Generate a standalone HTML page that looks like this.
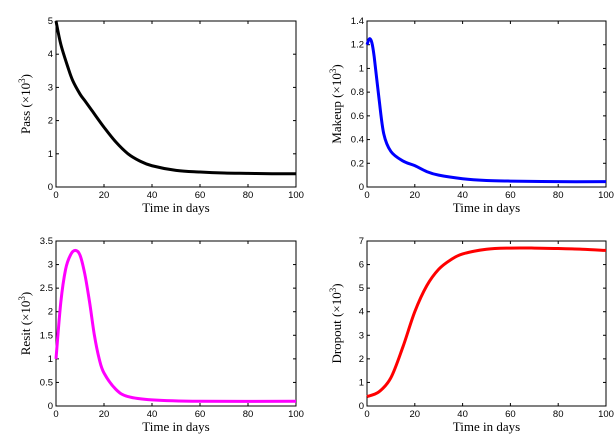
<!DOCTYPE html>
<html><head><meta charset="utf-8"><style>
body{margin:0;background:#fff}
svg{display:block}
.tk{font:9.5px "Liberation Sans",sans-serif;fill:#000}
.lb{font:13px "Liberation Serif",serif;fill:#000}
</style></head><body>
<svg id="s" width="615" height="440"></svg>
<script>
const xs=[0,2,5,7,10,12,15,20,25,30,35,40,50,60,70,80,90,100];
const passVals=[5,4.3,3.6,3.2,2.8,2.6,2.3,1.8,1.35,1.0,0.78,0.64,0.5,0.45,0.42,0.41,0.4,0.4];
const makeupX=[0,1,2,3,5,7,10,15,20,25,30,40,50,60,80,100];
const makeupVals=[1.2,1.25,1.22,1.1,0.75,0.45,0.3,0.22,0.18,0.13,0.1,0.07,0.055,0.05,0.045,0.045];
const resitX=[0,2,4,6,8,10,12,14,16,18,20,25,30,40,60,100];
const resitVals=[1.0,2.2,2.9,3.2,3.3,3.2,2.8,2.2,1.5,1.0,0.7,0.35,0.2,0.13,0.1,0.1];
const dropX=[0,5,10,15,20,25,30,35,40,50,60,70,80,90,100];
const dropVals=[0.4,0.6,1.2,2.5,4.0,5.1,5.8,6.2,6.45,6.65,6.7,6.7,6.68,6.65,6.6];
const xTicks=[0,20,40,60,80,100];
const panels=[
 {n:'pass',x0:56,x1:296,y0:187,y1:21,ymax:5,yt:[0,1,2,3,4,5],xd:xs,yd:passVals,c:'#000',lab:'Pass'},
 {n:'makeup',x0:367,x1:606,y0:187,y1:21,ymax:1.4,yt:[0,0.2,0.4,0.6,0.8,1,1.2,1.4],xd:makeupX,yd:makeupVals,c:'#0000ff',lab:'Makeup'},
 {n:'resit',x0:56,x1:296,y0:406,y1:241,ymax:3.5,yt:[0,0.5,1,1.5,2,2.5,3,3.5],xd:resitX,yd:resitVals,c:'#ff00ff',lab:'Resit'},
 {n:'dropout',x0:367,x1:606,y0:406,y1:241,ymax:7,yt:[0,1,2,3,4,5,6,7],xd:dropX,yd:dropVals,c:'#ff0000',lab:'Dropout'}];
const s=document.getElementById('s');const NS='http://www.w3.org/2000/svg';
function mk(t,a,p){const e=document.createElementNS(NS,t);for(const k in a)e.setAttribute(k,a[k]);(p||s).appendChild(e);return e;}
panels.forEach(p=>{
 const g=mk('g',{});
 
 
 const X=v=>p.x0+(p.x1-p.x0)*v/100, Y=v=>p.y0-(p.y0-p.y1)*v/p.ymax;
 const r=mk('rect',{x:p.x0,y:p.y1,width:p.x1-p.x0,height:p.y0-p.y1,fill:'none',stroke:'#000','stroke-width':1},g);
 
 
 xTicks.forEach(t=>{const x=X(t);
  mk('line',{x1:x,x2:x,y1:p.y0,y2:p.y0-3,stroke:'#000'},g);
  mk('line',{x1:x,x2:x,y1:p.y1,y2:p.y1+3,stroke:'#000'},g);
  const tx=mk('text',{x:x,y:p.y0+11,'text-anchor':'middle',class:'tk'},g);tx.textContent=t;
  
  });
 p.yt.forEach(t=>{const y=Y(t);
  mk('line',{x1:p.x0,x2:p.x0+3,y1:y,y2:y,stroke:'#000'},g);
  mk('line',{x1:p.x1,x2:p.x1-3,y1:y,y2:y,stroke:'#000'},g);
  const tx=mk('text',{x:p.x0-3,y:y+3,'text-anchor':'end',class:'tk'},g);tx.textContent=t;
  
  });
 const xl=mk('text',{x:(p.x0+p.x1)/2,y:p.y0+25,'text-anchor':'middle',class:'lb'},g);xl.textContent='Time in days';
 
 
 const cy=(p.y0+p.y1)/2, cx=p.x0-26;
 const yl=mk('text',{x:cx,y:cy,'text-anchor':'middle',class:'lb',transform:`rotate(-90 ${cx} ${cy})`},g);
 yl.innerHTML=p.lab+' (×10<tspan dy="-5" font-size="9">3</tspan><tspan dy="5">)</tspan>';
 
 
 const pts=p.xd.map((v,i)=>[X(v),Y(p.yd[i])]);
 let d='M'+pts[0][0]+','+pts[0][1];
 for(let i=0;i<pts.length-1;i++){const a=pts[Math.max(0,i-1)],b=pts[i],c=pts[i+1],e=pts[Math.min(pts.length-1,i+2)];
  d+=` C${b[0]+(c[0]-a[0])/6},${b[1]+(c[1]-a[1])/6} ${c[0]-(e[0]-b[0])/6},${c[1]-(e[1]-b[1])/6} ${c[0]},${c[1]}`;}
 const ln=mk('path',{d:d,fill:'none',stroke:p.c,'stroke-width':3,'stroke-linejoin':'round'},g);
 
 
});
</script></body></html>
